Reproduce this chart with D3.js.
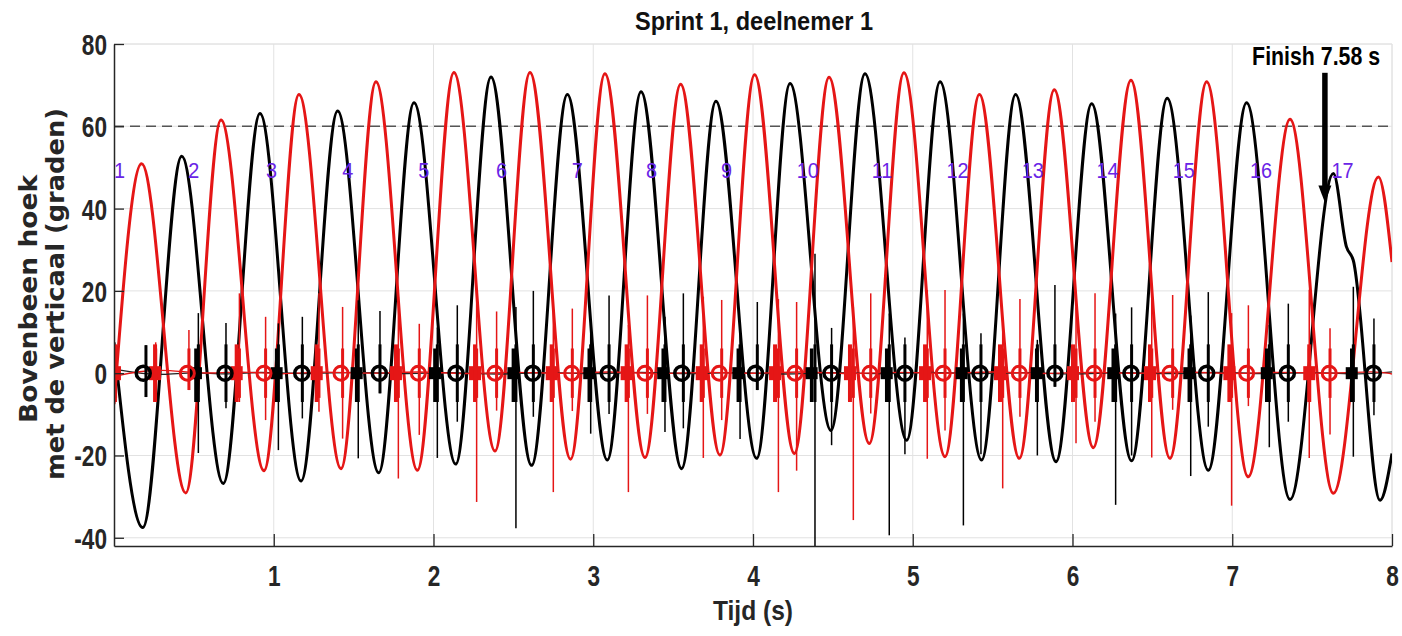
<!DOCTYPE html>
<html>
<head>
<meta charset="utf-8">
<script src="https://cdn.jsdelivr.net/npm/d3@7"></script>
<style>
  html, body { margin: 0; padding: 0; background: #fff; }
  svg { display: block; }
</style>
</head>
<body>
<svg id="chart" width="1402" height="636"></svg>
<script>
// ---- axis ticks ----
const xTicks = [1, 2, 3, 4, 5, 6, 7, 8];
const yTicks = [-40, -20, 0, 20, 40, 60, 80];

// ---- thigh angle, key points [time s, angle deg] ----
const blackAngle = [
  [0, 7.5], [0.180, -37.5], [0.424, 52.7], [0.684, -26.8], [0.914, 63.1],
  [1.171, -26.2], [1.400, 63.7], [1.657, -24.2], [1.878, 65.7], [2.139, -22.1],
  [2.360, 72.0], [2.614, -22.4], [2.838, 67.7], [3.088, -21.1], [3.299, 68.4],
  [3.553, -23.2], [3.768, 66.1], [4.023, -20.7], [4.232, 70.4], [4.488, -13.9],
  [4.701, 72.8], [4.962, -16.3], [5.171, 70.8], [5.431, -21.1], [5.644, 67.7],
  [5.897, -21.5], [6.120, 65.5], [6.370, -21.3], [6.593, 66.8], [6.850, -23.6],
  [7.090, 65.7], [7.362, -30.7], [7.633, 48.5], [7.715, 30.7], [7.757, 27.5],
  [7.925, -30.9], [8.0, -19.5]
];
const redAngle = [
  [0, -7.5], [0.173, 50.9], [0.449, -29.1], [0.670, 61.5], [0.939, -23.7],
  [1.158, 67.7], [1.421, -23.2], [1.640, 70.8], [1.899, -23.6], [2.128, 73.1],
  [2.385, -18.9], [2.604, 73.1], [2.858, -20.9], [3.073, 72.8], [3.324, -20.5],
  [3.547, 70.2], [3.793, -19.9], [4.010, 72.5], [4.259, -19.5], [4.476, 71.9],
  [4.728, -17.1], [4.945, 73.0], [5.202, -20.3], [5.417, 67.7], [5.667, -20.7],
  [5.886, 68.9], [6.130, -18.1], [6.366, 71.2], [6.610, -20.7], [6.840, 70.8],
  [7.100, -25.2], [7.362, 61.7], [7.633, -29.2], [7.915, 47.7], [8.0, 27.0]
];

// ---- signal near zero: [time s, value] ----
const blackBase = [
  [0, 1.0], [0.12, 0.2], [0.3, -0.6], [0.5, 0.4], [0.7, -0.5], [0.9, 0.5],
  [1.2, -0.4], [1.5, 0.5], [1.8, -0.4], [2.1, 0.4], [2.4, -0.5], [2.7, 0.4],
  [3.0, -0.4], [3.3, 0.5], [3.6, -0.4], [3.9, 0.4], [4.2, -0.5], [4.5, 0.4],
  [4.8, -0.4], [5.1, 0.5], [5.4, -0.4], [5.7, 0.4], [6.0, -0.5], [6.3, 0.4],
  [6.6, -0.4], [6.9, 0.5], [7.2, -0.4], [7.5, 0.4], [7.8, -0.4], [8.0, 0.3]
];
const redBase = [
  [0, -0.8], [0.15, 0.5], [0.35, 0.9], [0.55, -0.3], [0.8, 0.6], [1.05, -0.5],
  [1.3, 0.6], [1.6, -0.3], [1.9, 0.6], [2.2, -0.4], [2.5, 0.5], [2.8, -0.3],
  [3.1, 0.6], [3.4, -0.4], [3.7, 0.5], [4.0, -0.3], [4.3, 0.6], [4.6, -0.4],
  [4.9, 0.5], [5.2, -0.3], [5.5, 0.6], [5.8, -0.4], [6.1, 0.5], [6.4, -0.3],
  [6.7, 0.6], [7.0, -0.4], [7.3, 0.5], [7.6, -0.3], [7.9, 0.6], [8.0, -0.2]
];

// ---- spikes: [time s, top, bottom] ----
const blackSpikes = [
  [0.200, 6.8, -5.8], [0.528, 14.6, -19.4], [0.701, 12.2, -8.5], [1.029, 12.1, -18.7],
  [1.179, 13.7, -11.0], [1.529, 17.7, -20.7], [1.665, 15.1, -4.9], [2.024, 11.1, -20.6],
  [2.149, 16.5, -11.8], [2.516, 16.1, -37.7], [2.625, 20.0, -10.6], [2.984, 12.0, -14.7],
  [3.099, 18.9, -9.9], [3.449, 13.7, -14.3], [3.564, 19.4, -13.4], [3.919, 9.5, -16.0],
  [4.027, 17.3, -4.1], [4.388, 29.0, -43.0], [4.492, 11.0, -17.5], [4.853, 14.5, -39.4],
  [4.951, 8.7, -19.7], [5.317, 14.5, -37.0], [5.427, 9.7, -19.7], [5.780, 8.1, -20.0],
  [5.890, 21.4, -3.3], [6.270, 14.5, -32.0], [6.370, 16.0, -20.0], [6.740, 14.0, -25.0],
  [6.850, 19.7, -13.0], [7.232, 11.7, -18.0], [7.351, 16.9, -11.8], [7.758, 21.0, -20.3],
  [7.887, 13.3, -10.2]
];
const redSpikes = [
  [0.010, 4.0, -6.0], [0.261, 7.5, -3.5], [0.469, 10.5, -4.1], [0.785, 19.4, -7.0],
  [0.949, 13.7, -11.4], [1.283, 19.4, -9.4], [1.431, 16.1, -15.9], [1.780, 18.5, -25.6],
  [1.911, 12.0, -15.0], [2.270, 20.2, -31.3], [2.395, 15.0, -9.1], [2.750, 15.3, -28.9],
  [2.869, 15.7, -9.2], [3.220, 11.7, -28.9], [3.339, 18.9, -9.9], [3.689, 18.6, -20.6],
  [3.804, 17.8, -11.4], [4.159, 18.0, -28.9], [4.273, 17.3, -23.7], [4.628, 16.1, -35.7],
  [4.737, 19.4, -9.8], [5.091, 20.2, -20.8], [5.202, 20.2, -13.9], [5.563, 12.0, -28.0],
  [5.671, 18.0, -10.6], [6.022, 16.0, -17.0], [6.141, 19.4, -11.8], [6.496, 18.6, -20.5],
  [6.627, 19.0, -8.9], [6.996, 14.6, -32.2], [7.101, 16.5, -8.0], [7.482, 20.3, -20.6],
  [7.612, 10.9, -14.9]
];

// ---- event markers (time s) ----
const blackCircleTimes = [0.183, 0.695, 1.175, 1.661, 2.141, 2.621, 3.094, 3.554, 4.016,
  4.488, 4.951, 5.421, 5.890, 6.366, 6.840, 7.345, 7.883];
const redCircleTimes = [0.459, 0.939, 1.421, 1.905, 2.385, 2.865, 3.324, 3.789, 4.263,
  4.732, 5.191, 5.667, 6.135, 6.610, 7.090, 7.607];
const blackSquareTimes = [0.513, 1.018, 1.519, 2.009, 2.500, 2.975, 3.438, 3.908, 4.367,
  4.837, 5.306, 5.776, 6.255, 6.731, 7.216, 7.748];
const redSquareTimes = [0.006, 0.257, 0.768, 1.269, 1.765, 2.260, 2.740, 3.209, 3.679,
  4.138, 4.607, 5.077, 5.546, 6.003, 6.485, 6.982, 7.482];

// ---- step numbers ----
const stepLabels = ["1", "2", "3", "4", "5", "6", "7", "8", "9", "10", "11", "12", "13",
  "14", "15", "16", "17"];
const stepTimes = [0.0, 0.465, 0.951, 1.429, 1.905, 2.391, 2.865, 3.330, 3.800, 4.274,
  4.743, 5.212, 5.682, 6.151, 6.627, 7.111, 7.622];
const stepLabelAngle = 47.5;

const referenceAngle = 60;
const finishTime = 7.58;
const finishArrowTop = 73;
const finishArrowTip = 41.5;
const finishLabelTime = 7.525;
const finishLabelAngle = 74.8;

// ---- layout ----
const plot = { left: 114, right: 1392, top: 44, bottom: 546 };
const x = d3.scaleLinear().domain([0, 8]).range([plot.left, plot.right]);
const y = d3.scaleLinear().domain([-42, 80]).range([plot.bottom, plot.top]);

const svg = d3.select("#chart");
const RED = "#e51616";
const FONT = "'Liberation Sans', Arial, sans-serif";

// squeeze text horizontally to a narrow face
function condense(sel, factor) {
  sel.each(function () {
    const w = this.getComputedTextLength();
    this.setAttribute("textLength", w * factor);
    this.setAttribute("lengthAdjust", "spacingAndGlyphs");
  });
}

svg.append("defs").append("clipPath").attr("id", "plotclip")
  .append("rect")
  .attr("x", plot.left).attr("y", plot.top)
  .attr("width", plot.right - plot.left).attr("height", plot.bottom - plot.top);

// grid
const grid = svg.append("g").attr("stroke", "#e2e2e2").attr("stroke-width", 1);
grid.selectAll("line.gx").data(xTicks).join("line")
  .attr("x1", d => x(d)).attr("x2", d => x(d))
  .attr("y1", plot.top).attr("y2", plot.bottom);
grid.selectAll("line.gy").data(yTicks).join("line")
  .attr("x1", plot.left).attr("x2", plot.right)
  .attr("y1", d => y(d)).attr("y2", d => y(d));
// box top / right
grid.append("line").attr("x1", plot.left).attr("x2", plot.right)
  .attr("y1", plot.top).attr("y2", plot.top);
grid.append("line").attr("x1", plot.right).attr("x2", plot.right)
  .attr("y1", plot.top).attr("y2", plot.bottom);

const content = svg.append("g").attr("clip-path", "url(#plotclip)");

// reference line at 60 degrees
content.append("line")
  .attr("x1", plot.left).attr("x2", plot.right)
  .attr("y1", y(referenceAngle)).attr("y2", y(referenceAngle))
  .attr("stroke", "#555").attr("stroke-width", 1.5)
  .attr("stroke-dasharray", "10,6");

const line = d3.line().x(d => x(d[0])).y(d => y(d[1])).curve(d3.curveMonotoneX);
const thin = d3.line().x(d => x(d[0])).y(d => y(d[1])).curve(d3.curveBasis);

// thick thigh-angle curves
content.append("path").datum(blackAngle).attr("d", line)
  .attr("fill", "none").attr("stroke", "#000").attr("stroke-width", 3);
content.append("path").datum(redAngle).attr("d", line)
  .attr("fill", "none").attr("stroke", RED).attr("stroke-width", 3);

// near-zero signals
content.append("path").datum(blackBase).attr("d", thin)
  .attr("fill", "none").attr("stroke", "#222").attr("stroke-width", 1.3);
content.append("path").datum(redBase).attr("d", thin)
  .attr("fill", "none").attr("stroke", RED).attr("stroke-width", 1.3);

// spikes
content.selectAll("line.bs").data(blackSpikes).join("line")
  .attr("x1", d => x(d[0])).attr("x2", d => x(d[0]))
  .attr("y1", d => y(d[1])).attr("y2", d => y(d[2]))
  .attr("stroke", "#000").attr("stroke-width", 1.5);
content.selectAll("line.rs").data(redSpikes).join("line")
  .attr("x1", d => x(d[0])).attr("x2", d => x(d[0]))
  .attr("y1", d => y(d[1])).attr("y2", d => y(d[2]))
  .attr("stroke", RED).attr("stroke-width", 1.5);

// thick cores of the spikes around each event
content.selectAll("line.bcore").data(blackSpikes).join("line")
  .attr("x1", d => x(d[0])).attr("x2", d => x(d[0]))
  .attr("y1", d => y(Math.min(d[1], 7))).attr("y2", d => y(Math.max(d[2], -7)))
  .attr("stroke", "#000").attr("stroke-width", 3);
content.selectAll("line.rcore").data(redSpikes).join("line")
  .attr("x1", d => x(d[0])).attr("x2", d => x(d[0]))
  .attr("y1", d => y(Math.min(d[1], 6))).attr("y2", d => y(Math.max(d[2], -6)))
  .attr("stroke", RED).attr("stroke-width", 3);

// markers
content.selectAll("rect.rsq").data(redSquareTimes).join("rect")
  .attr("x", d => x(d) - 6).attr("y", y(0) - 7)
  .attr("width", 12).attr("height", 14).attr("fill", RED);
content.selectAll("line.rsqs").data(redSquareTimes).join("line")
  .attr("x1", d => x(d)).attr("x2", d => x(d))
  .attr("y1", y(7)).attr("y2", y(-7))
  .attr("stroke", RED).attr("stroke-width", 4);
content.selectAll("rect.bsq").data(blackSquareTimes).join("rect")
  .attr("x", d => x(d) - 6).attr("y", y(0) - 6)
  .attr("width", 12).attr("height", 12).attr("fill", "#000");
content.selectAll("line.bsqs").data(blackSquareTimes).join("line")
  .attr("x1", d => x(d)).attr("x2", d => x(d))
  .attr("y1", y(6)).attr("y2", y(-7))
  .attr("stroke", "#000").attr("stroke-width", 3.5);
content.selectAll("circle.rc").data(redCircleTimes).join("circle")
  .attr("cx", d => x(d)).attr("cy", y(0)).attr("r", 7)
  .attr("fill", "none").attr("stroke", RED).attr("stroke-width", 3);
content.selectAll("circle.bc").data(blackCircleTimes).join("circle")
  .attr("cx", d => x(d)).attr("cy", y(0)).attr("r", 7)
  .attr("fill", "none").attr("stroke", "#000").attr("stroke-width", 3.5);

// axes
const axisColor = "#262626";
const yAxis = svg.append("g").attr("transform", `translate(${plot.left},0)`)
  .call(d3.axisLeft(y).tickValues(yTicks).tickFormat(d => String(d))
    .tickSizeInner(-10).tickSizeOuter(0).tickPadding(7));
const xAxis = svg.append("g").attr("transform", `translate(0,${plot.bottom})`)
  .call(d3.axisBottom(x).tickValues(xTicks).tickFormat(d => String(d))
    .tickSizeInner(-12).tickSizeOuter(0).tickPadding(19));
[xAxis, yAxis].forEach(g => {
  g.select(".domain").attr("stroke", axisColor).attr("stroke-width", 1.5);
  g.selectAll(".tick line").attr("stroke", axisColor).attr("stroke-width", 1.3);
  g.selectAll(".tick text")
    .attr("fill", axisColor)
    .style("font-family", FONT).style("font-weight", "bold").style("font-size", "29px");
});
yAxis.selectAll(".tick text").attr("dy", "0.36em");
condense(xAxis.selectAll(".tick text"), 0.78);
condense(yAxis.selectAll(".tick text"), 0.78);

// step numbers
svg.append("g").selectAll("text").data(stepLabels).join("text")
  .attr("x", (d, i) => x(stepTimes[i]))
  .attr("y", y(stepLabelAngle))
  .attr("fill", "#6a24e6")
  .style("font-family", FONT).style("font-size", "22px")
  .text(d => d)
  .call(condense, 0.9);

// finish marker
const fx = x(finishTime);
svg.append("line")
  .attr("x1", fx).attr("x2", fx)
  .attr("y1", y(finishArrowTop)).attr("y2", y(finishArrowTip) - 14)
  .attr("stroke", "#000").attr("stroke-width", 5.5);
svg.append("path")
  .attr("d", `M${fx - 6.5},${y(finishArrowTip) - 17} L${fx + 6.5},${y(finishArrowTip) - 17} L${fx},${y(finishArrowTip)} Z`)
  .attr("fill", "#000");
svg.append("text")
  .attr("x", x(finishLabelTime)).attr("y", y(finishLabelAngle))
  .attr("text-anchor", "middle")
  .attr("textLength", 128).attr("lengthAdjust", "spacingAndGlyphs")
  .style("font-family", FONT).style("font-weight", "bold").style("font-size", "25px")
  .text(`Finish ${finishTime} s`);

// title and axis labels
svg.append("text")
  .attr("x", 754).attr("y", 30).attr("text-anchor", "middle")
  .attr("textLength", 238).attr("lengthAdjust", "spacingAndGlyphs")
  .attr("fill", "#111")
  .style("font-family", FONT).style("font-weight", "bold").style("font-size", "26px")
  .text("Sprint 1, deelnemer 1");
svg.append("text")
  .attr("x", 753).attr("y", 620).attr("text-anchor", "middle")
  .attr("textLength", 80).attr("lengthAdjust", "spacingAndGlyphs")
  .attr("fill", axisColor)
  .style("font-family", FONT).style("font-weight", "bold").style("font-size", "27px")
  .text("Tijd (s)");

const ylab = svg.append("g").attr("fill", axisColor)
  .style("font-family", "'DejaVu Sans', Verdana, sans-serif")
  .style("font-weight", "bold").style("font-size", "25px");
ylab.append("text")
  .attr("transform", "translate(37,299) rotate(-90)")
  .attr("text-anchor", "middle")
  .attr("textLength", 248).attr("lengthAdjust", "spacingAndGlyphs")
  .text("Bovenbeen hoek");
ylab.append("text")
  .attr("transform", "translate(64,294) rotate(-90)")
  .attr("text-anchor", "middle")
  .attr("textLength", 372).attr("lengthAdjust", "spacingAndGlyphs")
  .text("met de verticaal (graden)");
</script>
</body>
</html>
